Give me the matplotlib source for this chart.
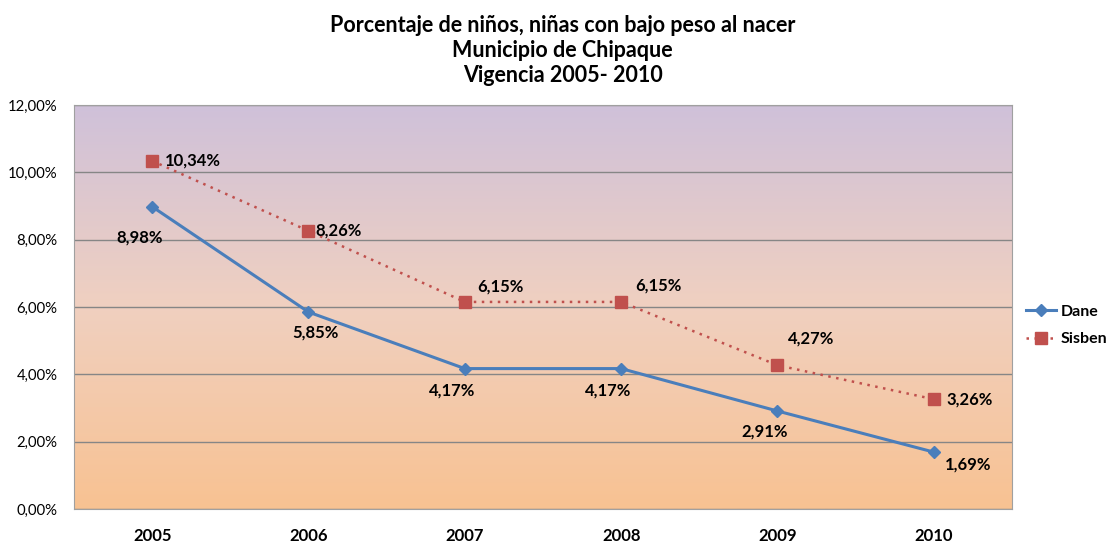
import numpy as np
import matplotlib.pyplot as plt
from matplotlib.colors import LinearSegmentedColormap
from matplotlib.ticker import FuncFormatter

years = ["2005", "2006", "2007", "2008", "2009", "2010"]
dane = [8.98, 5.85, 4.17, 4.17, 2.91, 1.69]
sisben = [10.34, 8.26, 6.15, 6.15, 4.27, 3.26]

# label offsets in points (per point, from the picture)
dane_off = [(-9, -22), (5, -15), (-9, -16), (-9, -16), (-9, -15), (25, -9)]
sisben_off = [(29, 0), (22, 0), (26, 11), (27, 12), (24, 19), (26, 0)]

plt.rcParams['font.family'] = ['Lato', 'DejaVu Sans']

fig = plt.figure(figsize=(11.14, 5.47), dpi=100)
ax = fig.add_axes([0.0664, 0.0695, 0.842, 0.7386])

x = np.arange(len(years))
ax.set_xlim(-0.5, 5.5)
ax.set_ylim(0, 12)

# gradient background
cmap = LinearSegmentedColormap.from_list("bg", ["#f8c292", "#f0d0c0", "#cfc1da"])
grad = np.linspace(0, 1, 256).reshape(-1, 1)
ax.imshow(grad, extent=[-0.5, 5.5, 0, 12], origin="lower", aspect="auto", cmap=cmap, zorder=0)

ax.yaxis.grid(True, color="#868686", linewidth=1, zorder=1)
ax.set_yticks(np.arange(0, 13, 2))
ax.yaxis.set_major_formatter(FuncFormatter(lambda v, p: ("%.2f%%" % v).replace(".", ",")))
ax.set_xticks(x)
ax.set_xticklabels(years, fontweight="bold", fontsize=12)
ax.tick_params(axis="both", length=0)
ax.tick_params(axis="y", labelsize=10.7, pad=12)
ax.tick_params(axis="x", pad=14)
for s in ax.spines.values():
    s.set_color("#a0a0a0")

ax.plot(x, dane, color="#4a7ebb", linewidth=2.2, marker="D", markersize=6.5, label="Dane", zorder=3)
ax.plot(x, sisben, color="#c0504d", linewidth=1.8, linestyle=(0, (1, 2.2)), marker="s",
        markersize=8, label="Sisben", zorder=3)

for xi, v, o in zip(x, dane, dane_off):
    ax.annotate(("%.2f%%" % v).replace(".", ","), (xi, v), xytext=o, textcoords="offset points",
                ha="center", va="center", fontweight="bold", fontsize=12, zorder=4)
for xi, v, o in zip(x, sisben, sisben_off):
    ax.annotate(("%.2f%%" % v).replace(".", ","), (xi, v), xytext=o, textcoords="offset points",
                ha="center", va="center", fontweight="bold", fontsize=12, zorder=4)

fig.legend(loc="center left", bbox_to_anchor=(0.921, 0.405), frameon=False,
           prop={"weight": "bold", "size": 11.5}, handlelength=1.9, labelspacing=0.85,
           handletextpad=0.25, borderpad=0, borderaxespad=0)

fig.text(0.505, 0.972, "Porcentaje de niños, niñas con bajo peso al nacer\nMunicipio de Chipaque\nVigencia 2005- 2010",
         ha="center", va="top", fontweight="bold", fontsize=15.5, linespacing=1.22)

fig.savefig("out.png", dpi=100)
